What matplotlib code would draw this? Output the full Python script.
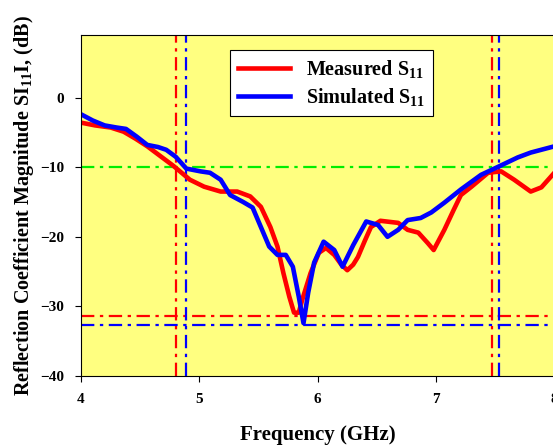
import matplotlib.pyplot as plt

# frequency (GHz) / S11 (dB)
meas_f = [4.0, 4.12, 4.25, 4.36, 4.46, 4.56, 4.67, 4.78, 4.92, 5.04, 5.18, 5.32, 5.43, 5.52,
          5.6, 5.66, 5.71, 5.76, 5.8, 5.84, 5.87, 5.94, 6.01, 6.07, 6.14, 6.2, 6.25, 6.3,
          6.34, 6.4, 6.45, 6.53, 6.68, 6.76, 6.85, 6.93, 6.98, 7.07, 7.15, 7.21, 7.3, 7.44,
          7.55, 7.66, 7.8, 7.89, 8.0]
meas_db = [-3.6, -4.0, -4.3, -4.9, -5.9, -7.0, -8.4, -9.8, -11.8, -12.8, -13.5, -13.5, -14.2,
           -15.7, -18.6, -21.4, -25.2, -28.6, -30.9, -30.9, -29.0, -25.2, -22.3, -21.6, -22.6,
           -24.0, -24.8, -24.0, -22.9, -20.5, -18.6, -17.7, -18.0, -19.0, -19.4, -20.9, -21.9,
           -19.0, -16.1, -14.0, -12.8, -10.8, -10.6, -11.8, -13.5, -12.9, -10.8]

sim_f = [4.0, 4.1, 4.2, 4.3, 4.38, 4.47, 4.56, 4.65, 4.72, 4.8, 4.89, 5.01, 5.09, 5.18, 5.26,
         5.37, 5.45, 5.52, 5.59, 5.66, 5.73, 5.79, 5.84, 5.88, 5.92, 5.97, 6.05, 6.14, 6.21,
         6.3, 6.41, 6.51, 6.59, 6.68, 6.76, 6.87, 6.96, 7.07, 7.21, 7.38, 7.53, 7.69, 7.8, 8.0]
sim_db = [-2.4, -3.3, -4.0, -4.3, -4.5, -5.6, -6.8, -7.1, -7.5, -8.5, -10.2, -10.6, -10.8,
          -11.8, -14.0, -15.0, -15.8, -18.6, -21.4, -22.6, -22.6, -24.3, -28.6, -32.4, -28.0,
          -23.7, -20.7, -21.9, -24.3, -21.2, -17.8, -18.3, -20.0, -19.0, -17.6, -17.3, -16.5,
          -15.1, -13.2, -11.1, -9.9, -8.6, -7.9, -7.0]

f_meas_lo, f_meas_hi = 4.80, 7.47
f_sim_lo, f_sim_hi = 4.89, 7.53
min_meas, min_sim = -31.4, -32.7

plt.rcParams['font.family'] = ['Liberation Serif', 'DejaVu Serif']
plt.rcParams['font.weight'] = 'bold'
plt.rcParams['mathtext.fontset'] = 'custom'
plt.rcParams['mathtext.rm'] = 'Liberation Serif:bold'

fig = plt.figure(figsize=(5.53, 4.48), dpi=100)
ax = fig.add_axes([0.1465, 0.1607, 0.856, 0.7613])
ax.set_facecolor('#ffff80')

dd = (0, (6, 2.5, 1.5, 2.5))
ax.axhline(-10, color='#00ee00', lw=1.6, ls=dd)
ax.axhline(min_meas, color='red', lw=1.6, ls=dd)
ax.axhline(min_sim, color='blue', lw=1.6, ls=dd)
for x, c in [(f_meas_lo, 'red'), (f_sim_lo, 'blue'), (f_meas_hi, 'red'), (f_sim_hi, 'blue')]:
    ax.axvline(x, color=c, lw=1.6, ls=dd)

ax.plot(meas_f, meas_db, color='red', lw=3.3, solid_joinstyle='round',
        label='Measured S$\\mathregular{_{11}}$')
ax.plot(sim_f, sim_db, color='blue', lw=3.3, solid_joinstyle='round',
        label='Simulated S$\\mathregular{_{11}}$')

ax.set_xlim(4, 8)
ax.set_ylim(-40, 9)
ax.set_xticks([4, 5, 6, 7, 8])
ax.set_yticks([-40, -30, -20, -10, 0])
ax.tick_params(direction='out', labelsize=11, length=4, pad=8)
ax.spines['right'].set_visible(False)
ax.set_xlabel('Frequency (GHz)', fontsize=15, fontweight='bold', labelpad=14)
ax.set_ylabel('Reflection Coefficient Magnitude SI$\\mathregular{_{11}}$I, (dB)', fontsize=14.5,
              fontweight='bold', labelpad=3)

leg = ax.legend(loc='upper left', bbox_to_anchor=(0.314, 0.956), borderaxespad=0,
                fontsize=14.5, frameon=True, fancybox=False, edgecolor='black', framealpha=1,
                handlelength=2.6, borderpad=0.4, labelspacing=0.3)
leg.get_frame().set_linewidth(0.8)

fig.savefig('out.png', dpi=100)
